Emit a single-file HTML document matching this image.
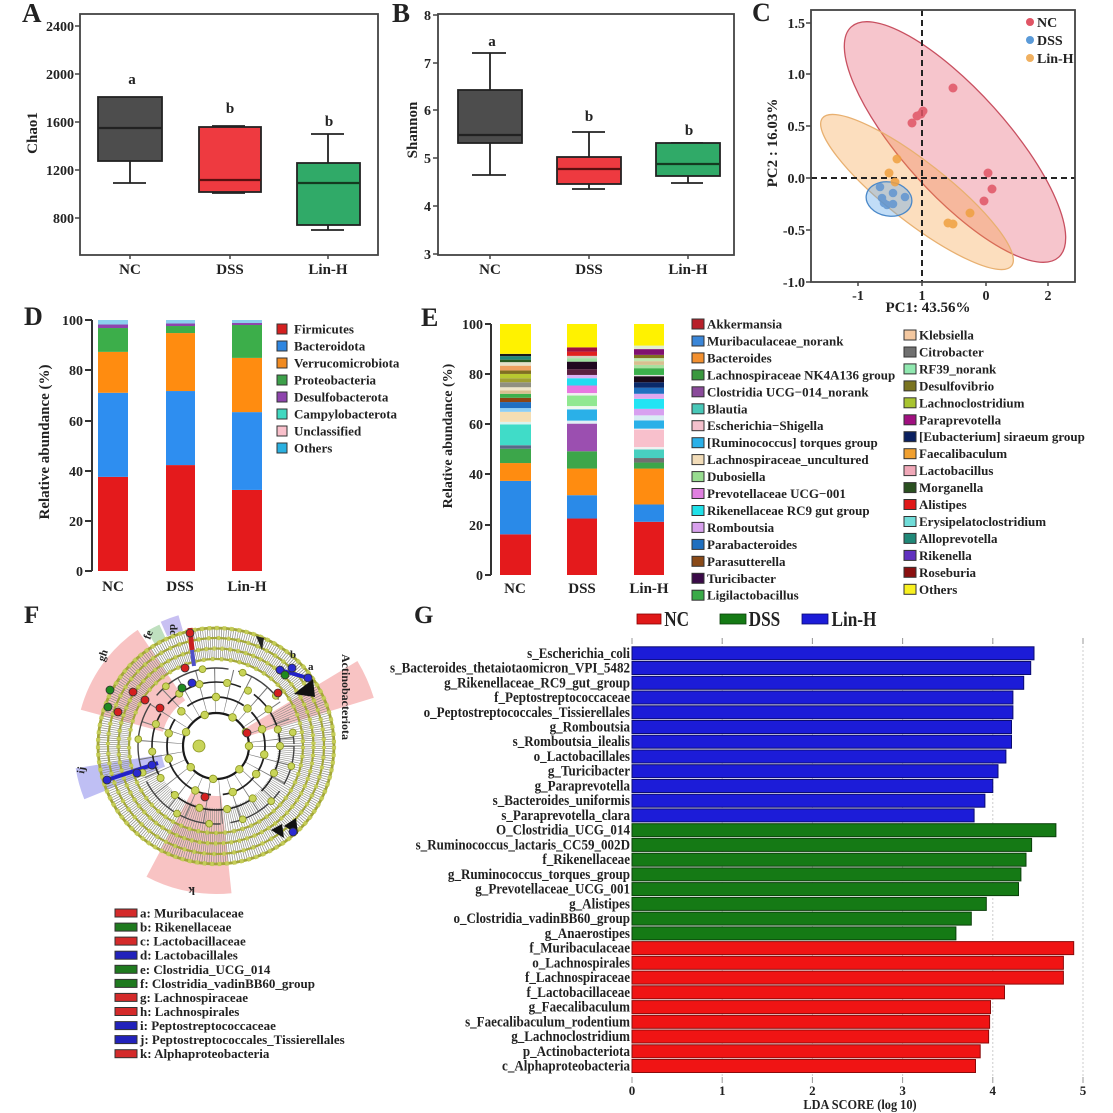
<!DOCTYPE html>
<html><head><meta charset="utf-8"><style>
html,body{margin:0;padding:0;background:#fff;}
svg{display:block;}
text{font-family:"Liberation Serif",serif;font-weight:bold;fill:#222;}
</style></head><body>
<svg width="1113" height="1113" viewBox="0 0 1113 1113" xmlns="http://www.w3.org/2000/svg">
<defs>
<clipPath id="clipC"><rect x="811" y="10" width="264" height="272"/></clipPath>
<clipPath id="clipF"><polygon points="0,0 173,-100 200,0 141,141 0,200 -141,141 -193,52"/></clipPath>
</defs>
<rect width="1113" height="1113" fill="#fff"/>

<!-- ========== A ========== -->
<text x="22" y="22" font-size="27">A</text>
<rect x="80" y="14" width="298" height="241" fill="none" stroke="#444" stroke-width="1.8"/>
<g stroke="#444" stroke-width="1.5">
<line x1="75" x2="80" y1="26" y2="26"/><line x1="75" x2="80" y1="74" y2="74"/><line x1="75" x2="80" y1="122" y2="122"/><line x1="75" x2="80" y1="170" y2="170"/><line x1="75" x2="80" y1="218" y2="218"/>
<line x1="130" x2="130" y1="255" y2="259"/><line x1="230" x2="230" y1="255" y2="259"/><line x1="328" x2="328" y1="255" y2="259"/>
</g>
<g font-size="14" text-anchor="end">
<text x="74" y="31">2400</text><text x="74" y="79">2000</text><text x="74" y="127">1600</text><text x="74" y="175">1200</text><text x="74" y="223">800</text>
</g>
<g font-size="15" text-anchor="middle">
<text x="130" y="274">NC</text><text x="230" y="274">DSS</text><text x="328" y="274">Lin-H</text>
<text x="132" y="84">a</text><text x="230" y="113">b</text><text x="329" y="126">b</text>
</g>
<text transform="translate(37,133) rotate(-90)" text-anchor="middle" font-size="15">Chao1</text>
<g stroke="#222" stroke-width="1.8">
<line x1="130" x2="130" y1="161" y2="183"/><line x1="113" x2="146" y1="183" y2="183"/>
<rect x="98" y="97" width="64" height="64" fill="#4d4d4d"/>
<line x1="98" x2="162" y1="128" y2="128" stroke-width="2.2"/>
<line x1="230" x2="230" y1="126" y2="127"/><line x1="212" x2="245" y1="126" y2="126"/>
<line x1="230" x2="230" y1="192" y2="193"/><line x1="212" x2="245" y1="193" y2="193"/>
<rect x="199" y="127" width="62" height="65" fill="#ee3a40"/>
<line x1="199" x2="261" y1="180" y2="180" stroke="#5a1010" stroke-width="2.2"/>
<line x1="328" x2="328" y1="134" y2="163"/><line x1="311" x2="344" y1="134" y2="134"/>
<line x1="328" x2="328" y1="225" y2="230"/><line x1="311" x2="344" y1="230" y2="230"/>
<rect x="297" y="163" width="63" height="62" fill="#30aa68"/>
<line x1="297" x2="360" y1="183" y2="183" stroke="#143a20" stroke-width="2.2"/>
</g>

<!-- ========== B ========== -->
<text x="392" y="22" font-size="27">B</text>
<rect x="438" y="14" width="296" height="241" fill="none" stroke="#444" stroke-width="1.8"/>
<g stroke="#444" stroke-width="1.5">
<line x1="433" x2="438" y1="15" y2="15"/><line x1="433" x2="438" y1="63" y2="63"/><line x1="433" x2="438" y1="110" y2="110"/><line x1="433" x2="438" y1="158" y2="158"/><line x1="433" x2="438" y1="206" y2="206"/><line x1="433" x2="438" y1="254" y2="254"/>
<line x1="490" x2="490" y1="255" y2="259"/><line x1="589" x2="589" y1="255" y2="259"/><line x1="688" x2="688" y1="255" y2="259"/>
</g>
<g font-size="14" text-anchor="end">
<text x="431" y="20">8</text><text x="431" y="68">7</text><text x="431" y="115">6</text><text x="431" y="163">5</text><text x="431" y="211">4</text><text x="431" y="259">3</text>
</g>
<g font-size="15" text-anchor="middle">
<text x="490" y="274">NC</text><text x="589" y="274">DSS</text><text x="688" y="274">Lin-H</text>
<text x="492" y="46">a</text><text x="589" y="121">b</text><text x="689" y="135">b</text>
</g>
<text transform="translate(417,130) rotate(-90)" text-anchor="middle" font-size="15">Shannon</text>
<g stroke="#222" stroke-width="1.8">
<line x1="490" x2="490" y1="53" y2="90"/><line x1="472" x2="506" y1="53" y2="53"/>
<line x1="490" x2="490" y1="143" y2="175"/><line x1="472" x2="506" y1="175" y2="175"/>
<rect x="458" y="90" width="64" height="53" fill="#4d4d4d"/>
<line x1="458" x2="522" y1="135" y2="135" stroke-width="2.2"/>
<line x1="589" x2="589" y1="132" y2="157"/><line x1="572" x2="605" y1="132" y2="132"/>
<line x1="589" x2="589" y1="184" y2="189"/><line x1="572" x2="605" y1="189" y2="189"/>
<rect x="557" y="157" width="64" height="27" fill="#ee3a40"/>
<line x1="557" x2="621" y1="169" y2="169" stroke="#5a1010" stroke-width="2.2"/>
<line x1="671" x2="703" y1="143" y2="143"/>
<line x1="688" x2="688" y1="176" y2="183"/><line x1="671" x2="703" y1="183" y2="183"/>
<rect x="656" y="143" width="64" height="33" fill="#30aa68"/>
<line x1="656" x2="720" y1="164" y2="164" stroke="#143a20" stroke-width="2.2"/>
</g>

<!-- ========== C ========== -->
<text x="752" y="21" font-size="26">C</text>
<g clip-path="url(#clipC)">
<ellipse cx="955" cy="142" rx="155" ry="52" transform="rotate(48 955 142)" fill="rgba(230,90,110,0.35)" stroke="#c85060" stroke-width="1.3"/>
<ellipse cx="917" cy="192" rx="120" ry="30" transform="rotate(38 917 192)" fill="rgba(245,160,70,0.35)" stroke="#e8b070" stroke-width="1.3"/>
<ellipse cx="889" cy="199" rx="23" ry="17" transform="rotate(10 889 199)" fill="rgba(100,170,235,0.4)" stroke="#4a88c8" stroke-width="1.3"/>
</g>
<g stroke="#222" stroke-width="2" stroke-dasharray="6 4">
<line x1="922" x2="922" y1="10" y2="282"/>
<line x1="811" x2="1075" y1="178" y2="178"/>
</g>
<g fill="#e05565" opacity="0.85">
<circle cx="953" cy="88" r="4.5"/><circle cx="912" cy="123" r="4.5"/><circle cx="917" cy="116" r="4.5"/><circle cx="923" cy="111" r="4.5"/><circle cx="921" cy="114" r="4.5"/><circle cx="988" cy="173" r="4.5"/><circle cx="992" cy="189" r="4.5"/><circle cx="984" cy="201" r="4.5"/>
</g>
<g fill="#f0a040" opacity="0.85">
<circle cx="897" cy="159" r="4.5"/><circle cx="889" cy="173" r="4.5"/><circle cx="895" cy="182" r="4.5"/><circle cx="970" cy="213" r="4.5"/><circle cx="948" cy="223" r="4.5"/><circle cx="953" cy="224" r="4.5"/>
</g>
<g fill="#5a92d0" opacity="0.8">
<circle cx="880" cy="187" r="4.3"/><circle cx="893" cy="193" r="4.3"/><circle cx="905" cy="197" r="4.3"/><circle cx="882" cy="198" r="4.3"/><circle cx="884" cy="203" r="4.3"/><circle cx="893" cy="204" r="4.3"/><circle cx="887" cy="205" r="4.3"/>
</g>
<rect x="811" y="10" width="264" height="272" fill="none" stroke="#444" stroke-width="1.8"/>
<g stroke="#444" stroke-width="1.5">
<line x1="806" x2="811" y1="23" y2="23"/><line x1="806" x2="811" y1="74" y2="74"/><line x1="806" x2="811" y1="126" y2="126"/><line x1="806" x2="811" y1="178" y2="178"/><line x1="806" x2="811" y1="230" y2="230"/><line x1="806" x2="811" y1="282" y2="282"/>
<line x1="858" x2="858" y1="282" y2="286"/><line x1="922" x2="922" y1="282" y2="286"/><line x1="986" x2="986" y1="282" y2="286"/><line x1="1048" x2="1048" y1="282" y2="286"/>
</g>
<g font-size="14" text-anchor="end">
<text x="805" y="28">1.5</text><text x="805" y="79">1.0</text><text x="805" y="131">0.5</text><text x="805" y="183">0.0</text><text x="805" y="235">-0.5</text><text x="805" y="287">-1.0</text>
</g>
<g font-size="14" text-anchor="middle">
<text x="858" y="300">-1</text><text x="922" y="300">1</text><text x="986" y="300">0</text><text x="1048" y="300">2</text>
</g>
<text x="928" y="312" font-size="15" text-anchor="middle">PC1: 43.56%</text>
<text transform="translate(777,143) rotate(-90)" text-anchor="middle" font-size="15">PC2 : 16.03%</text>
<circle cx="1030" cy="22" r="4" fill="#e05565"/><text x="1037" y="27" font-size="14">NC</text>
<circle cx="1030" cy="40" r="4" fill="#5a9ad8"/><text x="1037" y="45" font-size="14">DSS</text>
<circle cx="1030" cy="58" r="4" fill="#f0b060"/><text x="1037" y="63" font-size="14">Lin-H</text>

<!-- ========== D ========== -->
<text x="24" y="325" font-size="26">D</text>
<g transform="translate(98,571) scale(1,-2.51)">
<rect x="0" y="0" width="30" height="37.5" fill="#e41a1c"/>
<rect x="0" y="37.5" width="30" height="33.5" fill="#2e8ef0"/>
<rect x="0" y="71" width="30" height="16.3" fill="#ff8c10"/>
<rect x="0" y="87.3" width="30" height="9.5" fill="#3cae4a"/>
<rect x="0" y="96.8" width="30" height="1.4" fill="#8e44ad"/>
<rect x="0" y="98.2" width="30" height="1.8" fill="#8ccfee"/>
</g>
<g transform="translate(166,571) scale(1,-2.51)">
<rect x="0" y="0" width="29" height="42.2" fill="#e41a1c"/>
<rect x="0" y="42.2" width="29" height="29.5" fill="#2e8ef0"/>
<rect x="0" y="71.7" width="29" height="23.1" fill="#ff8c10"/>
<rect x="0" y="94.8" width="29" height="2.8" fill="#3cae4a"/>
<rect x="0" y="97.6" width="29" height="1" fill="#8e44ad"/>
<rect x="0" y="98.6" width="29" height="1.4" fill="#8ccfee"/>
</g>
<g transform="translate(232,571) scale(1,-2.51)">
<rect x="0" y="0" width="30" height="32.3" fill="#e41a1c"/>
<rect x="0" y="32.3" width="30" height="31" fill="#2e8ef0"/>
<rect x="0" y="63.3" width="30" height="21.6" fill="#ff8c10"/>
<rect x="0" y="84.9" width="30" height="13.1" fill="#3cae4a"/>
<rect x="0" y="98" width="30" height="0.8" fill="#8e44ad"/>
<rect x="0" y="98.8" width="30" height="1.2" fill="#8ccfee"/>
</g>
<line x1="92" x2="92" y1="320" y2="571" stroke="#333" stroke-width="2"/>
<g stroke="#333" stroke-width="2">
<line x1="85" x2="92" y1="320" y2="320"/><line x1="85" x2="92" y1="370" y2="370"/><line x1="85" x2="92" y1="421" y2="421"/><line x1="85" x2="92" y1="471" y2="471"/><line x1="85" x2="92" y1="521" y2="521"/><line x1="85" x2="92" y1="571" y2="571"/>
</g>
<g font-size="14" text-anchor="end">
<text x="83" y="325">100</text><text x="83" y="375">80</text><text x="83" y="426">60</text><text x="83" y="476">40</text><text x="83" y="526">20</text><text x="83" y="576">0</text>
</g>
<g font-size="15" text-anchor="middle">
<text x="113" y="591">NC</text><text x="180" y="591">DSS</text><text x="247" y="591">Lin-H</text>
</g>
<text transform="translate(49,442) rotate(-90)" text-anchor="middle" font-size="15">Relative abundance (%)</text>
<g stroke="#333" stroke-width="1">
<rect x="277" y="324" width="10" height="10" fill="#d42020"/>
<rect x="277" y="341" width="10" height="10" fill="#2e86e0"/>
<rect x="277" y="358" width="10" height="10" fill="#f08a20"/>
<rect x="277" y="375" width="10" height="10" fill="#3ca04a"/>
<rect x="277" y="392" width="10" height="10" fill="#8e44ad"/>
<rect x="277" y="409" width="10" height="10" fill="#40d8c0"/>
<rect x="277" y="426" width="10" height="10" fill="#f9c0cb"/>
<rect x="277" y="443" width="10" height="10" fill="#2ab0e0"/>
</g>
<g font-size="13">
<text x="294" y="333.5">Firmicutes</text>
<text x="294" y="350.5">Bacteroidota</text>
<text x="294" y="367.5">Verrucomicrobiota</text>
<text x="294" y="384.5">Proteobacteria</text>
<text x="294" y="401.5">Desulfobacterota</text>
<text x="294" y="418.5">Campylobacterota</text>
<text x="294" y="435.5">Unclassified</text>
<text x="294" y="452.5">Others</text>
</g>

<!-- ========== E ========== -->
<text x="421" y="326" font-size="26">E</text>
<g transform="translate(500,575) scale(1,-2.51)">
<rect x="0" y="0" width="31" height="16.2" fill="#e41a1c"/>
<rect x="0" y="16.2" width="31" height="21.3" fill="#2a8ae8"/>
<rect x="0" y="37.5" width="31" height="7.1" fill="#ff8c10"/>
<rect x="0" y="44.6" width="31" height="5.7" fill="#3ca64a"/>
<rect x="0" y="50.3" width="31" height="1.4" fill="#5a6a88"/>
<rect x="0" y="51.7" width="31" height="8.3" fill="#40dcc8"/>
<rect x="0" y="60" width="31" height="1" fill="#d8f4f0"/>
<rect x="0" y="61" width="31" height="4" fill="#f5deb3"/>
<rect x="0" y="65" width="31" height="1.5" fill="#8ccef5"/>
<rect x="0" y="66.5" width="31" height="2.4" fill="#1f6fc0"/>
<rect x="0" y="68.9" width="31" height="1.7" fill="#8b4513"/>
<rect x="0" y="70.6" width="31" height="1.6" fill="#3cb04c"/>
<rect x="0" y="72.2" width="31" height="1.3" fill="#d8c090"/>
<rect x="0" y="73.5" width="31" height="1.3" fill="#efe6c8"/>
<rect x="0" y="74.8" width="31" height="2" fill="#909080"/>
<rect x="0" y="76.8" width="31" height="1.6" fill="#a0a030"/>
<rect x="0" y="78.4" width="31" height="1.7" fill="#b8c830"/>
<rect x="0" y="80.1" width="31" height="1.4" fill="#807020"/>
<rect x="0" y="81.5" width="31" height="1.9" fill="#f0a060"/>
<rect x="0" y="83.4" width="31" height="1.4" fill="#e8e0c8"/>
<rect x="0" y="84.8" width="31" height="1" fill="#2a5a20"/>
<rect x="0" y="85.8" width="31" height="1.4" fill="#208878"/>
<rect x="0" y="87.2" width="31" height="0.9" fill="#1a1a1a"/>
<rect x="0" y="88.1" width="31" height="11.9" fill="#fff200"/>
</g>
<g transform="translate(567,575) scale(1,-2.51)">
<rect x="0" y="0" width="30" height="22.5" fill="#e41a1c"/>
<rect x="0" y="22.5" width="30" height="9.3" fill="#2a8ae8"/>
<rect x="0" y="31.8" width="30" height="10.6" fill="#ff8c10"/>
<rect x="0" y="42.4" width="30" height="6.9" fill="#3ca64a"/>
<rect x="0" y="49.3" width="30" height="11" fill="#9b4fb0"/>
<rect x="0" y="60.3" width="30" height="1.2" fill="#e0eef5"/>
<rect x="0" y="61.5" width="30" height="4.5" fill="#2ab0e8"/>
<rect x="0" y="66" width="30" height="1.3" fill="#eef8ee"/>
<rect x="0" y="67.3" width="30" height="4.2" fill="#90e890"/>
<rect x="0" y="71.5" width="30" height="1" fill="#f0f0f0"/>
<rect x="0" y="72.5" width="30" height="3" fill="#e878e0"/>
<rect x="0" y="75.5" width="30" height="2.9" fill="#22dcf0"/>
<rect x="0" y="78.4" width="30" height="1.3" fill="#dcb0f4"/>
<rect x="0" y="79.7" width="30" height="2.3" fill="#5a2040"/>
<rect x="0" y="82" width="30" height="3" fill="#200820"/>
<rect x="0" y="85" width="30" height="1.4" fill="#a0e0a0"/>
<rect x="0" y="86.4" width="30" height="0.9" fill="#d0d0c0"/>
<rect x="0" y="87.3" width="30" height="1.7" fill="#e02020"/>
<rect x="0" y="89" width="30" height="1.7" fill="#a01040"/>
<rect x="0" y="90.7" width="30" height="9.3" fill="#fff200"/>
</g>
<g transform="translate(634,575) scale(1,-2.51)">
<rect x="0" y="0" width="30" height="21.2" fill="#e41a1c"/>
<rect x="0" y="21.2" width="30" height="6.9" fill="#2a8ae8"/>
<rect x="0" y="28.1" width="30" height="14.3" fill="#ff8c10"/>
<rect x="0" y="42.4" width="30" height="2.4" fill="#3ca64a"/>
<rect x="0" y="44.8" width="30" height="1.8" fill="#707070"/>
<rect x="0" y="46.6" width="30" height="3.4" fill="#48d0c0"/>
<rect x="0" y="50" width="30" height="1" fill="#f0f0f0"/>
<rect x="0" y="51" width="30" height="7" fill="#f8c0cc"/>
<rect x="0" y="58" width="30" height="0.3" fill="#ffffff"/>
<rect x="0" y="58.3" width="30" height="3.3" fill="#2ab0e8"/>
<rect x="0" y="61.6" width="30" height="2" fill="#d8ecf4"/>
<rect x="0" y="63.6" width="30" height="2.6" fill="#d8a0f0"/>
<rect x="0" y="66.2" width="30" height="4" fill="#22e4f4"/>
<rect x="0" y="70.2" width="30" height="2" fill="#e0a8f0"/>
<rect x="0" y="72.2" width="30" height="2.4" fill="#2070c0"/>
<rect x="0" y="74.6" width="30" height="2.2" fill="#0a2a6a"/>
<rect x="0" y="76.8" width="30" height="2.4" fill="#1a0a1a"/>
<rect x="0" y="79.2" width="30" height="0.5" fill="#e0e0e0"/>
<rect x="0" y="79.7" width="30" height="2.7" fill="#3cb04c"/>
<rect x="0" y="82.4" width="30" height="1.3" fill="#a8e0a0"/>
<rect x="0" y="83.7" width="30" height="1.5" fill="#d8c090"/>
<rect x="0" y="85.2" width="30" height="1.2" fill="#c0e8b0"/>
<rect x="0" y="86.4" width="30" height="1.3" fill="#807020"/>
<rect x="0" y="87.7" width="30" height="2.3" fill="#801070"/>
<rect x="0" y="90" width="30" height="1.4" fill="#e0f0d0"/>
<rect x="0" y="91.4" width="30" height="8.6" fill="#fff200"/>
</g>
<line x1="491" x2="491" y1="324" y2="575" stroke="#333" stroke-width="2"/>
<g stroke="#333" stroke-width="2">
<line x1="485" x2="491" y1="324" y2="324"/><line x1="485" x2="491" y1="374" y2="374"/><line x1="485" x2="491" y1="424" y2="424"/><line x1="485" x2="491" y1="474" y2="474"/><line x1="485" x2="491" y1="525" y2="525"/><line x1="485" x2="491" y1="575" y2="575"/>
</g>
<g font-size="14" text-anchor="end">
<text x="483" y="329">100</text><text x="483" y="379">80</text><text x="483" y="429">60</text><text x="483" y="479">40</text><text x="483" y="530">20</text><text x="483" y="580">0</text>
</g>
<g font-size="15" text-anchor="middle">
<text x="515" y="593">NC</text><text x="582" y="593">DSS</text><text x="649" y="593">Lin-H</text>
</g>
<text transform="translate(452,436) rotate(-90)" text-anchor="middle" font-size="14">Relative abundance (%)</text>
<g stroke="#333" stroke-width="1">
<rect x="692" y="319" width="12" height="10" fill="#b8202a"/>
<rect x="692" y="336" width="12" height="10" fill="#3a86d8"/>
<rect x="692" y="352.9" width="12" height="10" fill="#f29030"/>
<rect x="692" y="369.9" width="12" height="10" fill="#3a983e"/>
<rect x="692" y="386.8" width="12" height="10" fill="#8a4a9a"/>
<rect x="692" y="403.8" width="12" height="10" fill="#48c8b8"/>
<rect x="692" y="420.7" width="12" height="10" fill="#f4c0cc"/>
<rect x="692" y="437.7" width="12" height="10" fill="#2ab0e8"/>
<rect x="692" y="454.6" width="12" height="10" fill="#f2dcb8"/>
<rect x="692" y="471.6" width="12" height="10" fill="#98dc90"/>
<rect x="692" y="488.5" width="12" height="10" fill="#e080e0"/>
<rect x="692" y="505.5" width="12" height="10" fill="#20e0e8"/>
<rect x="692" y="522.4" width="12" height="10" fill="#d8a0ec"/>
<rect x="692" y="539.4" width="12" height="10" fill="#2070c0"/>
<rect x="692" y="556.3" width="12" height="10" fill="#8a4a18"/>
<rect x="692" y="573.3" width="12" height="10" fill="#3a0a48"/>
<rect x="692" y="590.2" width="12" height="10" fill="#3aaa48"/>
<rect x="904" y="330" width="12" height="10" fill="#f4c8a0"/>
<rect x="904" y="347" width="12" height="10" fill="#707070"/>
<rect x="904" y="363.9" width="12" height="10" fill="#90e8b0"/>
<rect x="904" y="380.9" width="12" height="10" fill="#7a7420"/>
<rect x="904" y="397.8" width="12" height="10" fill="#a8c430"/>
<rect x="904" y="414.8" width="12" height="10" fill="#a01080"/>
<rect x="904" y="431.7" width="12" height="10" fill="#0a2060"/>
<rect x="904" y="448.7" width="12" height="10" fill="#f0a030"/>
<rect x="904" y="465.6" width="12" height="10" fill="#f0a8b8"/>
<rect x="904" y="482.6" width="12" height="10" fill="#2a5020"/>
<rect x="904" y="499.5" width="12" height="10" fill="#e01818"/>
<rect x="904" y="516.5" width="12" height="10" fill="#70dcd8"/>
<rect x="904" y="533.4" width="12" height="10" fill="#208878"/>
<rect x="904" y="550.4" width="12" height="10" fill="#6030c0"/>
<rect x="904" y="567.3" width="12" height="10" fill="#8a1010"/>
<rect x="904" y="584.3" width="12" height="10" fill="#f8f020"/>
</g>
<g font-size="13">
<text x="707" y="328.5">Akkermansia</text>
<text x="707" y="345.5">Muribaculaceae_norank</text>
<text x="707" y="362.4">Bacteroides</text>
<text x="707" y="379.4">Lachnospiraceae NK4A136 group</text>
<text x="707" y="396.3">Clostridia UCG−014_norank</text>
<text x="707" y="413.3">Blautia</text>
<text x="707" y="430.2">Escherichia−Shigella</text>
<text x="707" y="447.2">[Ruminococcus] torques group</text>
<text x="707" y="464.1">Lachnospiraceae_uncultured</text>
<text x="707" y="481.1">Dubosiella</text>
<text x="707" y="498">Prevotellaceae UCG−001</text>
<text x="707" y="515">Rikenellaceae RC9 gut group</text>
<text x="707" y="531.9">Romboutsia</text>
<text x="707" y="548.9">Parabacteroides</text>
<text x="707" y="565.8">Parasutterella</text>
<text x="707" y="582.8">Turicibacter</text>
<text x="707" y="599.7">Ligilactobacillus</text>
<text x="919" y="339.5">Klebsiella</text>
<text x="919" y="356.5">Citrobacter</text>
<text x="919" y="373.4">RF39_norank</text>
<text x="919" y="390.4">Desulfovibrio</text>
<text x="919" y="407.3">Lachnoclostridium</text>
<text x="919" y="424.3">Paraprevotella</text>
<text x="919" y="441.2">[Eubacterium] siraeum group</text>
<text x="919" y="458.2">Faecalibaculum</text>
<text x="919" y="475.1">Lactobacillus</text>
<text x="919" y="492.1">Morganella</text>
<text x="919" y="509">Alistipes</text>
<text x="919" y="526">Erysipelatoclostridium</text>
<text x="919" y="542.9">Alloprevotella</text>
<text x="919" y="559.9">Rikenella</text>
<text x="919" y="576.8">Roseburia</text>
<text x="919" y="593.8">Others</text>
</g>

<!-- ========== F ========== -->
<text x="24" y="623" font-size="25">F</text>
<path d="M80.8,709.8 A140,140 0 0 1 137.7,629.9 L185.2,700.4 A55,55 0 0 0 162.9,731.8 Z" fill="#f6b4b4" opacity="0.8"/>
<path d="M357.4,661 A165,165 0 0 1 373.8,697.8 L244.7,737.2 A30,30 0 0 0 241.7,730.5 Z" fill="#f6b4b4" opacity="0.8"/>
<path d="M231.5,893.2 A148,148 0 0 1 146.5,876.7 L192.5,790.1 A50,50 0 0 0 221.2,795.7 Z" fill="#f6b4b4" opacity="0.8"/>
<path d="M84.3,799.2 A142,142 0 0 1 75.7,768.2 L161.7,754.6 A55,55 0 0 0 165,766.6 Z" fill="#b4b4f2" opacity="0.85"/>
<path d="M147,631.1 A134,134 0 0 1 159.4,624.6 L166.1,639.1 A118,118 0 0 0 155.2,644.8 Z" fill="#bfe0bf"/>
<path d="M160.7,621.8 A136,136 0 0 1 178.5,615.3 L182.9,630.6 A120,120 0 0 0 167.2,636.4 Z" fill="#c8c0f2"/>
<g transform="translate(216,746)">
<circle r="102" fill="none" stroke="#8c8c86" stroke-width="32" stroke-dasharray="0.7 1.4"/>
<g clip-path="url(#clipF)">
<circle r="74" fill="none" stroke="#8c8c86" stroke-width="24" stroke-dasharray="0.6 1.5"/>
</g>
<circle r="56" fill="none" stroke="#777" stroke-width="44" stroke-dasharray="0.8 13"/>
<circle r="33" fill="none" stroke="#1a1a1a" stroke-width="2.2"/>
<circle r="49" fill="none" stroke="#222" stroke-width="1.8" stroke-dasharray="70 12 100 18 60 10 38"/>
<circle r="64" fill="none" stroke="#222" stroke-width="1.6" stroke-dasharray="50 10 90 15 70 12 80 15 60"/>
<circle r="78" fill="none" stroke="#444" stroke-width="1.4" stroke-dasharray="40 8 60 10 90 12 70 10 80 10 50"/>
<g fill="none" stroke="#a4a838" stroke-width="2.2">
<circle r="87"/><circle r="97.5"/><circle r="108"/><circle r="118" stroke-width="2.8"/>
</g>
<g fill="none" stroke="#c4cc58" stroke-width="4.2">
<circle r="87" stroke-dasharray="3 6"/><circle r="97.5" stroke-dasharray="3 5"/><circle r="108" stroke-dasharray="3 7"/><circle r="118" stroke-dasharray="3.5 4"/>
</g>
<polygon points="78,-52 97,-67 99,-49" fill="#111"/>
<polygon points="55,84 66,78 68,92" fill="#111"/>
<polygon points="68,80 80,72 82,88" fill="#111"/>
<polygon points="40,-110 48,-108 46,-96" fill="#222"/>
<line x1="-109" y1="34" x2="-58" y2="17" stroke="#2222c8" stroke-width="4"/>
<line x1="-26" y1="-118" x2="-24" y2="-96" stroke="#c82020" stroke-width="5"/>
<line x1="-24" y1="-96" x2="-22" y2="-80" stroke="#5050c8" stroke-width="4"/>
<line x1="64" y1="-76" x2="92" y2="-68" stroke="#2222c8" stroke-width="4"/>
<g fill="#c8d458" stroke="#8a9420" stroke-width="0.8">
<circle cx="-17" cy="0" r="6"/>
<circle cx="33" r="3.8" transform="rotate(0)"/><circle cx="33" r="3.8" transform="rotate(45)"/><circle cx="33" r="3.8" transform="rotate(95)"/><circle cx="33" r="3.8" transform="rotate(140)"/><circle cx="33" r="3.8" transform="rotate(205)"/><circle cx="33" r="3.8" transform="rotate(250)"/><circle cx="33" r="3.8" transform="rotate(300)"/><circle cx="33" r="3.8" transform="rotate(335)"/>
<circle cx="49" r="3.8" transform="rotate(10)"/><circle cx="49" r="3.8" transform="rotate(35)"/><circle cx="49" r="3.8" transform="rotate(70)"/><circle cx="49" r="3.8" transform="rotate(115)"/><circle cx="49" r="3.8" transform="rotate(165)"/><circle cx="49" r="3.8" transform="rotate(195)"/><circle cx="49" r="3.8" transform="rotate(225)"/><circle cx="49" r="3.8" transform="rotate(270)"/><circle cx="49" r="3.8" transform="rotate(310)"/><circle cx="49" r="3.8" transform="rotate(340)"/>
<circle cx="64" r="3.6" transform="rotate(0)"/><circle cx="64" r="3.6" transform="rotate(25)"/><circle cx="64" r="3.6" transform="rotate(55)"/><circle cx="64" r="3.6" transform="rotate(80)"/><circle cx="64" r="3.6" transform="rotate(105)"/><circle cx="64" r="3.6" transform="rotate(130)"/><circle cx="64" r="3.6" transform="rotate(150)"/><circle cx="64" r="3.6" transform="rotate(175)"/><circle cx="64" r="3.6" transform="rotate(200)"/><circle cx="64" r="3.6" transform="rotate(235)"/><circle cx="64" r="3.6" transform="rotate(255)"/><circle cx="64" r="3.6" transform="rotate(280)"/><circle cx="64" r="3.6" transform="rotate(300)"/><circle cx="64" r="3.6" transform="rotate(325)"/><circle cx="64" r="3.6" transform="rotate(345)"/>
<circle cx="78" r="3.4" transform="rotate(15)"/><circle cx="78" r="3.4" transform="rotate(45)"/><circle cx="78" r="3.4" transform="rotate(70)"/><circle cx="78" r="3.4" transform="rotate(95)"/><circle cx="78" r="3.4" transform="rotate(120)"/><circle cx="78" r="3.4" transform="rotate(160)"/><circle cx="78" r="3.4" transform="rotate(185)"/><circle cx="78" r="3.4" transform="rotate(230)"/><circle cx="78" r="3.4" transform="rotate(260)"/><circle cx="78" r="3.4" transform="rotate(290)"/><circle cx="78" r="3.4" transform="rotate(320)"/><circle cx="78" r="3.4" transform="rotate(350)"/>
</g>
<g stroke="#333" stroke-width="0.8">
<circle cx="-26" cy="-113" r="4" fill="#d42020"/><circle cx="-31" cy="-78" r="4" fill="#d42020"/><circle cx="-24" cy="-63" r="4" fill="#2a2ad0"/><circle cx="-34" cy="-58" r="4" fill="#1f8a1f"/>
<circle cx="64" cy="-76" r="4" fill="#2a2ad0"/><circle cx="69" cy="-71" r="4" fill="#1f8a1f"/><circle cx="76" cy="-78" r="4" fill="#2a2ad0"/><circle cx="92" cy="-68" r="4" fill="#2a2ad0"/>
<circle cx="62" cy="-53" r="4" fill="#d42020"/><circle cx="31" cy="-13" r="4" fill="#d42020"/>
<circle cx="-64" cy="19" r="4" fill="#2a2ad0"/><circle cx="-79" cy="27" r="4" fill="#2a2ad0"/><circle cx="-109" cy="34" r="4" fill="#2a2ad0"/>
<circle cx="-11" cy="51" r="4" fill="#d42020"/><circle cx="77" cy="86" r="4" fill="#2a2ad0"/>
<circle cx="-83" cy="-54" r="4" fill="#d42020"/><circle cx="-71" cy="-46" r="4" fill="#d42020"/><circle cx="-56" cy="-38" r="4" fill="#d42020"/>
<circle cx="-108" cy="-39" r="4" fill="#1f8a1f"/><circle cx="-98" cy="-34" r="4" fill="#d42020"/><circle cx="-106" cy="-56" r="4" fill="#1f8a1f"/>
</g>
</g>
<g font-size="11">
<text transform="translate(150,640) rotate(-70)">fe</text>
<text transform="translate(170,624) rotate(90)">dc</text>
<text transform="translate(104,662) rotate(-70)">gh</text>
<text x="290" y="658">b</text>
<text x="308" y="670">a</text>
<text transform="translate(84,774) rotate(-80)">ij</text>
</g>
<text transform="translate(195,887) rotate(180)" font-size="12">k</text>
<text transform="translate(342,697) rotate(90)" text-anchor="middle" font-size="12">Actinobacteriota</text>
<g stroke="#333" stroke-width="1">
<rect x="115" y="909" width="22" height="8" fill="#d42a2a"/>
<rect x="115" y="923.1" width="22" height="8" fill="#1f7a1f"/>
<rect x="115" y="937.1" width="22" height="8" fill="#d42a2a"/>
<rect x="115" y="951.2" width="22" height="8" fill="#2222bb"/>
<rect x="115" y="965.3" width="22" height="8" fill="#1f7a1f"/>
<rect x="115" y="979.4" width="22" height="8" fill="#1f7a1f"/>
<rect x="115" y="993.4" width="22" height="8" fill="#d42a2a"/>
<rect x="115" y="1007.5" width="22" height="8" fill="#d42a2a"/>
<rect x="115" y="1021.6" width="22" height="8" fill="#2222bb"/>
<rect x="115" y="1035.6" width="22" height="8" fill="#2222bb"/>
<rect x="115" y="1049.7" width="22" height="8" fill="#d42a2a"/>
</g>
<g font-size="13">
<text x="140" y="917.5">a: Muribaculaceae</text>
<text x="140" y="931.6">b: Rikenellaceae</text>
<text x="140" y="945.6">c: Lactobacillaceae</text>
<text x="140" y="959.7">d: Lactobacillales</text>
<text x="140" y="973.8">e: Clostridia_UCG_014</text>
<text x="140" y="987.9">f: Clostridia_vadinBB60_group</text>
<text x="140" y="1001.9">g: Lachnospiraceae</text>
<text x="140" y="1016">h: Lachnospirales</text>
<text x="140" y="1030.1">i: Peptostreptococcaceae</text>
<text x="140" y="1044.1">j: Peptostreptococcales_Tissierellales</text>
<text x="140" y="1058.2">k: Alphaproteobacteria</text>
</g>

<!-- ========== G ========== -->
<text x="414" y="623" font-size="25">G</text>
<rect x="637" y="614" width="24" height="10" fill="#e01818" stroke="#800" stroke-width="0.8"/>
<rect x="720" y="614" width="26" height="10" fill="#157a15" stroke="#0a3f0a" stroke-width="0.8"/>
<rect x="802" y="614" width="26" height="10" fill="#1c1cd8" stroke="#0b0b70" stroke-width="0.8"/>
<g transform="translate(0,626) scale(0.82,1)" font-size="21">
<text x="810">NC</text><text x="913">DSS</text><text x="1014">Lin-H</text>
</g>
<g stroke="#ccc" stroke-width="1" stroke-dasharray="2 2">
<line x1="722.2" x2="722.2" y1="638" y2="1077"/><line x1="812.4" x2="812.4" y1="638" y2="1077"/><line x1="902.6" x2="902.6" y1="638" y2="1077"/><line x1="992.8" x2="992.8" y1="638" y2="1077"/><line x1="1083" x2="1083" y1="638" y2="1077"/>
</g>
<g stroke="#999" stroke-width="1">
<line x1="632" x2="632" y1="638" y2="644"/><line x1="722.2" x2="722.2" y1="638" y2="644"/><line x1="812.4" x2="812.4" y1="638" y2="644"/><line x1="902.6" x2="902.6" y1="638" y2="644"/><line x1="992.8" x2="992.8" y1="638" y2="644"/><line x1="1083" x2="1083" y1="638" y2="644"/>
<line x1="632" x2="632" y1="1077" y2="1083"/><line x1="722.2" x2="722.2" y1="1077" y2="1083"/><line x1="812.4" x2="812.4" y1="1077" y2="1083"/><line x1="902.6" x2="902.6" y1="1077" y2="1083"/><line x1="992.8" x2="992.8" y1="1077" y2="1083"/><line x1="1083" x2="1083" y1="1077" y2="1083"/>
</g>
<g fill="#1c1cd8" stroke="#0b0b70" stroke-width="1">
<rect x="632" y="646.8" width="402" height="13"/>
<rect x="632" y="661.5" width="398.7" height="13"/>
<rect x="632" y="676.3" width="391.7" height="13"/>
<rect x="632" y="691" width="380.9" height="13"/>
<rect x="632" y="705.8" width="380.9" height="13"/>
<rect x="632" y="720.5" width="379.5" height="13"/>
<rect x="632" y="735.2" width="379.5" height="13"/>
<rect x="632" y="750" width="373.9" height="13"/>
<rect x="632" y="764.7" width="366" height="13"/>
<rect x="632" y="779.5" width="360.8" height="13"/>
<rect x="632" y="794.2" width="352.9" height="13"/>
<rect x="632" y="808.9" width="342.1" height="13"/>
</g>
<g fill="#157a15" stroke="#0a3f0a" stroke-width="1">
<rect x="632" y="823.7" width="423.9" height="13"/>
<rect x="632" y="838.4" width="399.6" height="13"/>
<rect x="632" y="853.2" width="394" height="13"/>
<rect x="632" y="867.9" width="388.9" height="13"/>
<rect x="632" y="882.6" width="386.5" height="13"/>
<rect x="632" y="897.4" width="354.3" height="13"/>
<rect x="632" y="912.1" width="339.3" height="13"/>
<rect x="632" y="926.9" width="323.9" height="13"/>
</g>
<g fill="#f01414" stroke="#8a0a0a" stroke-width="1">
<rect x="632" y="941.6" width="441.7" height="13"/>
<rect x="632" y="956.3" width="431.4" height="13"/>
<rect x="632" y="971.1" width="431.4" height="13"/>
<rect x="632" y="985.8" width="372.5" height="13"/>
<rect x="632" y="1000.6" width="358.5" height="13"/>
<rect x="632" y="1015.3" width="357.6" height="13"/>
<rect x="632" y="1030" width="356.6" height="13"/>
<rect x="632" y="1044.8" width="348.2" height="13"/>
<rect x="632" y="1059.5" width="343.5" height="13"/>
</g>
<g transform="translate(630,0) scale(0.9,1)" font-size="14.5" text-anchor="end">
<text x="0" y="657.8">s_Escherichia_coli</text>
<text x="0" y="672.5">s_Bacteroides_thetaiotaomicron_VPI_5482</text>
<text x="0" y="687.3">g_Rikenellaceae_RC9_gut_group</text>
<text x="0" y="702">f_Peptostreptococcaceae</text>
<text x="0" y="716.8">o_Peptostreptococcales_Tissierellales</text>
<text x="0" y="731.5">g_Romboutsia</text>
<text x="0" y="746.2">s_Romboutsia_ilealis</text>
<text x="0" y="761">o_Lactobacillales</text>
<text x="0" y="775.7">g_Turicibacter</text>
<text x="0" y="790.5">g_Paraprevotella</text>
<text x="0" y="805.2">s_Bacteroides_uniformis</text>
<text x="0" y="819.9">s_Paraprevotella_clara</text>
<text x="0" y="834.7">O_Clostridia_UCG_014</text>
<text x="0" y="849.4">s_Ruminococcus_lactaris_CC59_002D</text>
<text x="0" y="864.2">f_Rikenellaceae</text>
<text x="0" y="878.9">g_Ruminococcus_torques_group</text>
<text x="0" y="893.6">g_Prevotellaceae_UCG_001</text>
<text x="0" y="908.4">g_Alistipes</text>
<text x="0" y="923.1">o_Clostridia_vadinBB60_group</text>
<text x="0" y="937.9">g_Anaerostipes</text>
<text x="0" y="952.6">f_Muribaculaceae</text>
<text x="0" y="967.3">o_Lachnospirales</text>
<text x="0" y="982.1">f_Lachnospiraceae</text>
<text x="0" y="996.8">f_Lactobacillaceae</text>
<text x="0" y="1011.6">g_Faecalibaculum</text>
<text x="0" y="1026.3">s_Faecalibaculum_rodentium</text>
<text x="0" y="1041">g_Lachnoclostridium</text>
<text x="0" y="1055.8">p_Actinobacteriota</text>
<text x="0" y="1070.5">c_Alphaproteobacteria</text>
</g>
<g font-size="13" text-anchor="middle">
<text x="632" y="1095">0</text><text x="722.2" y="1095">1</text><text x="812.4" y="1095">2</text><text x="902.6" y="1095">3</text><text x="992.8" y="1095">4</text><text x="1083" y="1095">5</text>
</g>
<g transform="translate(860,1109) scale(0.88,1)"><text x="0" y="0" font-size="14" text-anchor="middle">LDA SCORE (log 10)</text></g>
</svg>
</body></html>
